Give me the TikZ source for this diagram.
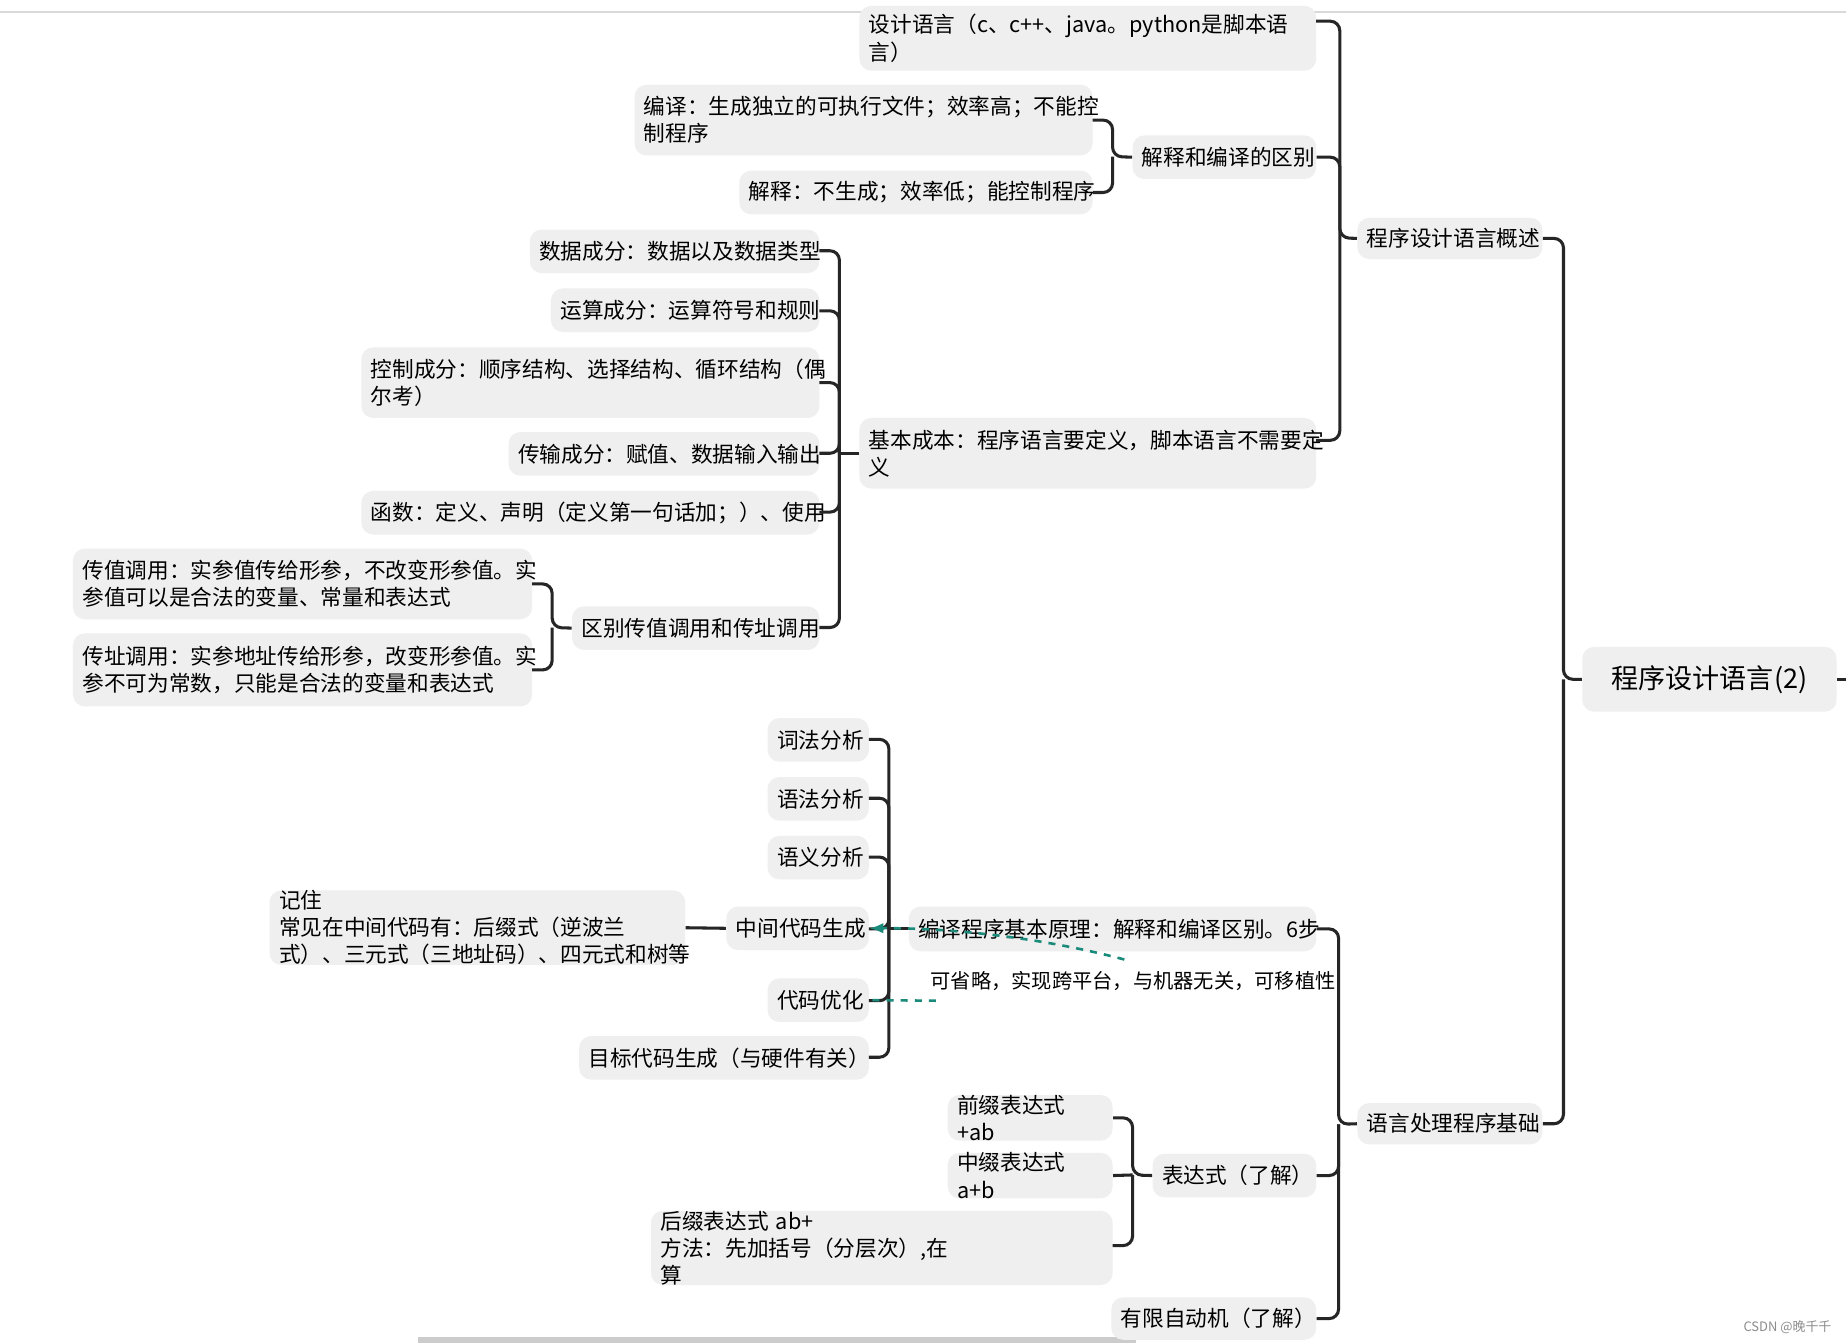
\documentclass[tikz,border=0pt]{standalone}
\usepackage{fontspec}
\setmainfont{Noto Sans CJK SC}
\usetikzlibrary{arrows.meta}
\definecolor{boxg}{HTML}{EFEFEF}
\definecolor{teal1}{HTML}{1A8A7A}
\tikzset{
  bx/.style={fill=boxg,rounded corners=5pt,align=left,inner sep=0pt,font=\fontsize{9.2}{11.5}\selectfont},
  br/.style={line width=1.3pt,rounded corners=4pt,draw=black!85},
}
\newcommand\bxn[6]{%
  \pgfmathsetmacro\ww{(#4-#2)*0.5}\pgfmathsetmacro\hh{(#5-#3)*0.5}%
  \node[bx,minimum width=\ww pt,minimum height=\hh pt,text width=\ww pt-8pt] (#1) at ({(#2+#4)/2},{(#3+#5)/2}) {#6};}
\begin{document}
\begin{tikzpicture}[x=0.5pt,y=-0.5pt]
\useasboundingbox (0,0) rectangle (1568,1141);
\fill[white] (0,0) rectangle (1568,1141);
\draw[black!15,line width=0.8pt] (0,10) -- (1568,10);
\fill[black!20] (355,1136) rectangle (965,1141);
% root
\node[bx,minimum width=108pt,minimum height=27.5pt,font=\fontsize{11.5}{14}\selectfont,align=center] (root) at (1452,577) {程序设计语言(2)};
\draw[br] (root.east) -- (1568,577);
\bxn{gs}{1153}{185}{1310}{220}{程序设计语言概述}
\bxn{jc}{1153}{937}{1310}{972}{语言处理程序基础}
\draw[br] (root.west) -- (1328,577) |- (gs.east);
\draw[br] (1328,577) |- (jc.east);
% gaishu children
\bxn{sj}{730}{5}{1118}{60}{设计语言（c、c++、java。python是脚本语\\言）}
\bxn{qb}{962}{115}{1118}{152}{解释和编译的区别}
\bxn{jb}{730}{355}{1118}{415}{基本成本：程序语言要定义，脚本语言不需要定\\义}
\draw[br] (gs.west) -- (1138,202) |- (1118,18);
\draw[br] (1138,202) |- (qb.east);
\draw[br] (1138,202) |- (1118,374);
% jieshi bianyi
\bxn{by}{539}{72}{928}{132}{编译：生成独立的可执行文件；效率高；不能控\\制程序}
\bxn{js}{628}{145}{928}{182}{解释：不生成；效率低；能控制程序}
\draw[br] (qb.west) -- (945,133) |- (928,102);
\draw[br] (945,133) |- (js.east);
% jiben chengben
\bxn{c1}{450}{195}{696}{232}{数据成分：数据以及数据类型}
\bxn{c2}{468}{245}{696}{282}{运算成分：运算符号和规则}
\bxn{c3}{307}{295}{696}{355}{控制成分：顺序结构、选择结构、循环结构（偶\\尔考）}
\bxn{c4}{432}{367}{696}{404}{传输成分：赋值、数据输入输出}
\bxn{c5}{307}{417}{696}{454}{函数：定义、声明（定义第一句话加；）、使用}
\bxn{c6}{486}{515}{696}{552}{区别传值调用和传址调用}
\draw[br] (730,385) -- (713,385);
\foreach \n/\y in {c1/213,c2/264,c3/325,c4/385,c5/435,c6/533}{\draw[br] (713,385) |- (696,\y);}
\bxn{cz}{62}{466}{452}{526}{传值调用：实参值传给形参，不改变形参值。实\\参值可以是合法的变量、常量和表达式}
\bxn{cd}{62}{538}{452}{600}{传址调用：实参地址传给形参，改变形参值。实\\参不可为常数，只能是合法的变量和表达式}
\draw[br] (c6.west) -- (469,533) |- (452,496);
\draw[br] (469,533) |- (452,569);
% yuyan chuli
\bxn{yl}{772}{770}{1118}{808}{编译程序基本原理：解释和编译区别。6步}
\bxn{bd}{979}{980}{1118}{1017}{表达式（了解）}
\bxn{yx}{944}{1102}{1118}{1138}{有限自动机（了解）}
\draw[br] (jc.west) -- (1137,955) |- (yl.east);
\draw[br] (1137,955) |- (bd.east);
\draw[br] (1137,955) |- (yx.east);
% bianyi steps
\bxn{s1}{652}{610}{738}{647}{词法分析}
\bxn{s2}{652}{660}{738}{697}{语法分析}
\bxn{s3}{652}{710}{738}{747}{语义分析}
\bxn{s4}{617}{770}{738}{807}{中间代码生成}
\bxn{s5}{652}{831}{738}{868}{代码优化}
\bxn{s6}{492}{880}{738}{917}{目标代码生成（与硬件有关）}
\draw[br] (yl.west) -- (755,789);
\foreach \n/\y in {s1/628,s2/678,s3/728,s4/789,s5/850,s6/898}{\draw[br] (755,789) |- (738,\y);}
\bxn{jz}{229}{758}{582}{818}{记住 常见在中间代码有：后缀式（逆波兰\\式）、三元式（三地址码）、四元式和树等}
\draw[br] (s4.west) -- (jz.east);
\node[font=\fontsize{8.6}{10}\selectfont,anchor=west,inner sep=0pt] (note) at (790,833) {可省略，实现跨平台，与机器无关，可移植性};
\draw[teal1,line width=1.1pt,dashed,-{Latex[length=6pt]}] (955,815) .. controls (880,795) and (800,788) .. (s4.east);
\draw[teal1,line width=1.1pt,dashed] (795,850) -- (s5.east);
% biaodashi
\bxn{q1}{805}{931}{945}{968}{前缀表达式 +ab}
\bxn{q2}{805}{980}{945}{1017}{中缀表达式 a+b}
\bxn{q3}{553}{1030}{945}{1090}{后缀表达式 ab+\ \ 方法：先加括号（分层次）,在\\算}
\draw[br] (bd.west) -- (962,998) |- (q1.east);
\draw[br] (962,998) -- (q2.east);
\draw[br] (962,998) |- (945,1058);
\node[font=\fontsize{5.5}{6}\selectfont,text=black!45,anchor=east,inner sep=0pt] (wm) at (1556,1127) {CSDN @晚千千};
\end{tikzpicture}
\end{document}
